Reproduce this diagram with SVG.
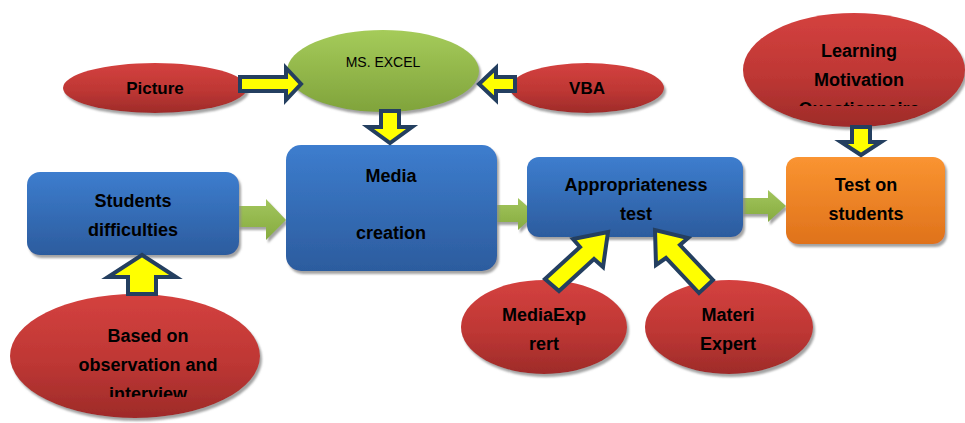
<svg xmlns="http://www.w3.org/2000/svg" width="965" height="423" viewBox="0 0 965 423">
  <defs>
    <linearGradient id="gRed" x1="0" y1="0" x2="0" y2="1">
      <stop offset="0" stop-color="#D4413F"/>
      <stop offset="0.55" stop-color="#BE3734"/>
      <stop offset="1" stop-color="#9E2B29"/>
    </linearGradient>
    <linearGradient id="gBlue" x1="0" y1="0" x2="0" y2="1">
      <stop offset="0" stop-color="#3D7DCE"/>
      <stop offset="1" stop-color="#2C5C9E"/>
    </linearGradient>
    <linearGradient id="gOrange" x1="0" y1="0" x2="0" y2="1">
      <stop offset="0" stop-color="#FA9431"/>
      <stop offset="1" stop-color="#DF721B"/>
    </linearGradient>
    <linearGradient id="gLime" x1="0" y1="0" x2="0" y2="1">
      <stop offset="0" stop-color="#A5CB5A"/>
      <stop offset="1" stop-color="#80A33B"/>
    </linearGradient>
    <linearGradient id="gArrow" x1="0" y1="0" x2="0" y2="1">
      <stop offset="0" stop-color="#A2C55C"/>
      <stop offset="1" stop-color="#86AB40"/>
    </linearGradient>
    <filter id="shadow" x="-10%" y="-10%" width="125%" height="130%">
      <feGaussianBlur in="SourceAlpha" stdDeviation="1"/>
      <feOffset dx="2" dy="3" result="off"/>
      <feFlood flood-color="#8C8C8C" flood-opacity="0.8"/>
      <feComposite in2="off" operator="in"/>
      <feMerge>
        <feMergeNode/>
        <feMergeNode in="SourceGraphic"/>
      </feMerge>
    </filter>
    <!-- text frames that cut off overflowing label lines -->
    <clipPath id="clipLearning"><rect x="740" y="20" width="225" height="86"/></clipPath>
    <clipPath id="clipBased"><rect x="10" y="310" width="260" height="87"/></clipPath>
  </defs>
  <style>
    .red { fill: url(#gRed); filter: url(#shadow); }
    .blue { fill: url(#gBlue); filter: url(#shadow); }
    .orange { fill: url(#gOrange); filter: url(#shadow); }
    .lime { fill: url(#gLime); filter: url(#shadow); }
    .flow { fill: url(#gArrow); filter: url(#shadow); }
    .block { fill: #FFFF00; stroke: #243F60; stroke-width: 4; stroke-linejoin: miter; }
    text { font-family: "Liberation Sans", Arial, sans-serif; fill: #000; text-anchor: middle; }
    .b { font-weight: bold; font-size: 18px; }
    .r { font-size: 14px; }
  </style>

  <!-- green flow arrows (behind the boxes) -->
  <g id="flows">
    <polygon class="flow" points="236,206 266,206 266,199 286,220 266,240 266,227 236,227"/>
    <polygon class="flow" points="494,205 518,205 518,198 536,214 518,230 518,222 494,222"/>
    <polygon class="flow" points="735,198 768,198 768,190 786,206 768,222 768,214 735,214"/>
  </g>

  <!-- process boxes -->
  <g id="students">
    <rect class="blue" x="27" y="172" width="212" height="83" rx="13"/>
    <text class="b" x="133" y="207">Students</text>
    <text class="b" x="133" y="236">difficulties</text>
  </g>
  <g id="media">
    <rect class="blue" x="286" y="145" width="211" height="126" rx="15"/>
    <text class="b" x="391" y="182">Media</text>
    <text class="b" x="391" y="239">creation</text>
  </g>
  <g id="appropriateness">
    <rect class="blue" x="527" y="157" width="216" height="80" rx="12"/>
    <text class="b" x="636" y="191">Appropriateness</text>
    <text class="b" x="636" y="220">test</text>
  </g>
  <g id="test">
    <rect class="orange" x="786" y="157" width="159" height="87" rx="12"/>
    <text class="b" x="866" y="191">Test on</text>
    <text class="b" x="866" y="220">students</text>
  </g>

  <!-- source ellipses -->
  <g id="excel">
    <ellipse class="lime" cx="383" cy="71" rx="96" ry="41"/>
    <text class="r" x="383" y="67">MS. EXCEL</text>
  </g>
  <g id="picture">
    <ellipse class="red" cx="155" cy="88" rx="92" ry="25"/>
    <text class="b" x="155" y="94" style="font-size:17px">Picture</text>
  </g>
  <g id="vba">
    <ellipse class="red" cx="587" cy="88" rx="77" ry="25"/>
    <text class="b" x="587" y="94" style="font-size:17px">VBA</text>
  </g>
  <g id="learning">
    <ellipse class="red" cx="854" cy="70" rx="111" ry="57"/>
    <g clip-path="url(#clipLearning)">
      <text class="b" x="859" y="57">Learning</text>
      <text class="b" x="859" y="86">Motivation</text>
      <text class="b" x="859" y="115">Questionnaire</text>
    </g>
  </g>
  <g id="based">
    <ellipse class="red" cx="135" cy="356" rx="125" ry="62"/>
    <g clip-path="url(#clipBased)">
      <text class="b" x="148" y="342">Based on</text>
      <text class="b" x="148" y="371">observation and</text>
      <text class="b" x="148" y="400">interview</text>
    </g>
  </g>
  <g id="mediaexpert">
    <ellipse class="red" cx="544" cy="327" rx="83" ry="47"/>
    <text class="b" x="544" y="321">MediaExp</text>
    <text class="b" x="544" y="350">rert</text>
  </g>
  <g id="materi">
    <ellipse class="red" cx="729" cy="327" rx="84" ry="47"/>
    <text class="b" x="728" y="321">Materi</text>
    <text class="b" x="728" y="350">Expert</text>
  </g>

  <!-- yellow block arrows -->
  <g id="connectors">
    <polygon class="block" points="240,77 286,77 286,68 301,84 286,100 286,91 240,91"/>
    <polygon class="block" points="515,77 496,77 496,68 479,84 496,100 496,91 515,91"/>
    <polygon class="block" points="381,111 399,111 399,127 412,127 390,143 368,127 381,127"/>
    <polygon class="block" points="852,127 870,127 870,142 881,142 861,155 841,142 852,142"/>
    <polygon class="block" points="128,294 128,277 108,277 142,255 176,277 156,277 156,294"/>
    <polygon class="block" points="545,279 580,247 573,239 608,232 603,267 594,259 559,291"/>
    <polygon class="block" points="713,280 680,245 688,238 655,230 656,265 666,258 699,293"/>
  </g>
</svg>
